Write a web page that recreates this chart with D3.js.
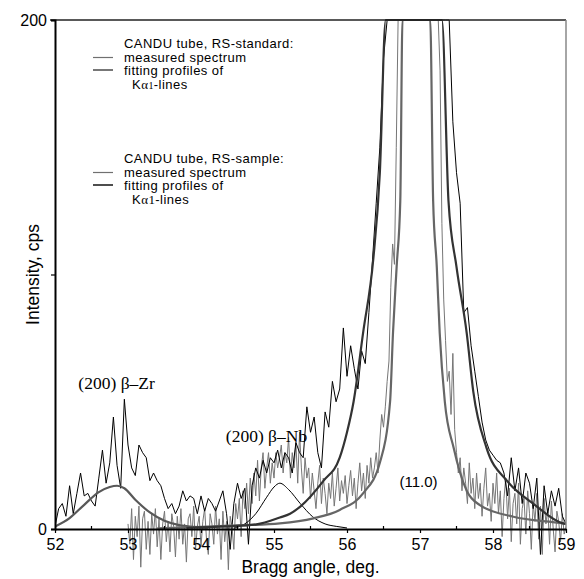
<!DOCTYPE html>
<html>
<head>
<meta charset="utf-8">
<script src="https://cdn.jsdelivr.net/npm/d3@7"></script>
<style>
  body { margin: 0; background: #fff; }
  svg { display: block; }
  text { font-family: "Liberation Sans", Arial, sans-serif; fill: #000; }
</style>
</head>
<body>
<svg id="chart" width="584" height="579"></svg>
<script>
// Bragg angle range and intensity range
const xDomain = [52, 59];
const yDomain = [0, 200];
const xTickValues = [52, 53, 54, 55, 56, 57, 58, 59];
const yTickLabels = [0, 200];
const yTickMarks = [0, 100, 200];

// RS-standard measured spectrum, 52.00 .. 59.00 deg, step 0.05
const stdStart = 52.0, stdStep = 0.05;
const stdMeasured = [
  1, 8, 10, 5, 17, 6, 14, 22, 13, 14,
  11, 9, 20, 31, 18, 26, 44, 25, 16, 51,
  33, 24, 21, 33, 30, 28, 19, 22, 19, 17,
  12, 8, 10, 6, 9, 15, 11, 13, 12, 6,
  13, 7, 12, 10, 7, 11, 15, 6, -8, 10,
  18, 12, 16, -6, 17, 24, 20, 27, 22, 28,
  26, 31, 24, 30, 28, 22, 34, 30, 28, 48,
  38, 44, 30, 24, 46, 40, 58, 50, 55, 79,
  60, 72, 63, 55, 70, 65, 85, 106, 128, 150,
  185, 220, 250, 250, 250, 250, 250, 250, 250, 250,
  250, 250, 250, 250, 250, 250, 250, 250, 250, 160,
  140, 128, 85, 87, 72, 62, 52, 42, 35, 31,
  29, 27, 26, 22, 13, 28, 15, 24, 10, 22,
  18, 8, 20, -10, 17, 6, 15, 9, 16, 5,
  2
];

// RS-sample measured spectrum, 53.000 .. 59.000 deg, step 0.025
const smpStart = 53.0, smpStep = 0.025;
const smpMeasured = [
  2, -6, 8, -12, 5, -3, 9, -15, 4, 7, -8, 3, -10, 6, -2, 8, -7, 4, -12, 2,
  7, -5, 3, -9, 6, 1, -11, 5, -4, 8, -6, 2, -13, 4, 6, -3, 9, -8, 1, 5,
  -7, 3, 8, -4, -10, 6, 2, -6, 9, -2, 4, -12, 7, -5, 3, -16, 5, 1, -8, 10,
  4, 12, -3, 15, 8, 18, 6, 20, 10, 22, 13, 27, 11, 24, 30, 16, 24, 30, 18, 26,
  20, 30, 24, 28, 33, 22, 30, 26, 36, 20, 30, 24, 34, 18, 38, 24, 14, 28, 20, 24,
  12, 22, 15, 8, 18, 25, 10, 20, 14, 6, 18, 12, 22, 9, 16, 24, 11, 19, 14, 21,
  10, 17, 23, 13, 20, 8, 18, 26, 15, 22, 12, 25, 18, 28, 20, 24, 30, 22, 35, 45,
  40, 48, 58, 66, 95, 112, 104, 150, 220, 260, 300, 300, 300, 300, 300, 300, 300, 300, 300, 300,
  300, 300, 300, 300, 300, 300, 300, 300, 300, 300, 260, 180, 120, 90, 74, 58, 62, 45, 69, 39,
  30, 22, 28, 15, 24, 18, 10, 26, 14, 20, 8, 22, 12, 18, 5, 16, 24, 9, 14, 3,
  18, 10, 22, 6, 15, -3, 12, 20, 4, 16, -5, 10, 14, 2, 18, -6, 8, 12, -2, 15,
  6, -8, 10, 3, 14, -4, 9, -10, 12, 2, 8, -6, 11, 0, -9, 7, 3, -5, 6, -2, 1
];

// Fitted profiles: (200) beta-Zr line of the standard
const zrFitX = [52.0, 52.2, 52.4, 52.6, 52.75, 52.85, 52.95, 53.1, 53.3, 53.5, 53.7, 53.9, 54.1];
const zrFitY = [1, 4.3, 9.5, 14.5, 16.5, 17, 16, 11.5, 6.5, 3.2, 1.5, 0.8, 0.5];

// Fitted profiles: (200) beta-Nb line
const nbFitX = [54.45, 54.6, 54.75, 54.9, 55.0, 55.08, 55.2, 55.36, 55.53, 55.7, 55.86, 56.0];
const nbFitY = [0.3, 2, 6, 12.5, 16.5, 18, 15.5, 10, 4.8, 2, 1, 0.4];

// Fitted (11.0) alpha line of the standard
const stdFitX = [53.8, 54.35, 54.76, 55.08, 55.22, 55.36, 55.68, 55.9, 56.0, 56.09, 56.22, 56.36, 56.45, 56.53, 56.7, 56.95, 57.15, 57.3, 57.39, 57.5, 57.64, 57.73, 57.91, 58.19, 58.55, 58.96, 59.0];
const stdFitY = [0.5, 1, 1.8, 4.5, 6, 8.8, 19, 28, 38, 50, 77, 106, 140, 200, 320, 420, 320, 200, 129, 103, 77, 54, 32, 19, 10, 2.2, 2];

// Fitted (11.0) alpha line of the sample
const smpFitX = [53.4, 54.0, 54.5, 55.08, 55.54, 55.9, 56.22, 56.45, 56.59, 56.63, 56.68, 56.73, 56.76, 56.9, 57.0, 57.14, 57.18, 57.23, 57.27, 57.34, 57.46, 57.64, 57.82, 58.28, 58.96, 59.0];
const smpFitY = [0.3, 0.8, 1.4, 2.2, 4.2, 7.5, 14, 26, 50, 77, 103, 129, 200, 400, 400, 200, 129, 103, 77, 50, 32, 15, 9.4, 4.8, 2.2, 2];

// Legend and peak captions
const legendBlocks = [
  { title: "CANDU tube, RS-standard:", measured: "#707070", fit: "#555555" },
  { title: "CANDU tube, RS-sample:", measured: "#707070", fit: "#222222" }
];
const peakLabels = [
  { text: "(200) \u03b2\u2013Zr", x: 52.32, y: 55, serif: true },
  { text: "(200) \u03b2\u2013Nb", x: 54.34, y: 34, serif: true },
  { text: "(11.0)", x: 56.72, y: 16.5, serif: false }
];

const svg = d3.select("#chart");
const margin = { left: 55, right: 18, top: 20, bottom: 50 };
const W = 584, H = 579;
const x = d3.scaleLinear().domain(xDomain).range([margin.left, W - margin.right]);
const y = d3.scaleLinear().domain(yDomain).range([H - margin.bottom, margin.top]);

// clip data horizontally to the frame; values above 200 are held at the top edge
svg.append("clipPath").attr("id", "plotClip")
  .append("rect")
  .attr("x", x(52)).attr("y", y(200) - 1)
  .attr("width", x(59) - x(52)).attr("height", H - y(200));

const plot = svg.append("g").attr("clip-path", "url(#plotClip)");
const yc = v => y(Math.min(v, 200));

const seriesLine = d3.line().x(d => x(d[0])).y(d => yc(d[1]));
const smoothLine = d3.line().x(d => x(d[0])).y(d => yc(d[1])).curve(d3.curveMonotoneX);

const stdPts = stdMeasured.map((v, i) => [stdStart + i * stdStep, v]);
const smpPts = smpMeasured.map((v, i) => [smpStart + i * smpStep, v]);
const zip = (xs, ys) => xs.map((v, i) => [v, ys[i]]);

// measured spectra
plot.append("path").datum(smpPts).attr("d", seriesLine)
  .attr("fill", "none").attr("stroke", "#767676").attr("stroke-width", 1);
plot.append("path").datum(stdPts).attr("d", seriesLine)
  .attr("fill", "none").attr("stroke", "#000").attr("stroke-width", 1);

// fitted profiles
plot.append("path").datum(zip(zrFitX, zrFitY)).attr("d", smoothLine)
  .attr("fill", "none").attr("stroke", "#585858").attr("stroke-width", 2.2);
plot.append("path").datum(zip(nbFitX, nbFitY)).attr("d", smoothLine)
  .attr("fill", "none").attr("stroke", "#000").attr("stroke-width", 1);
plot.append("path").datum(zip(smpFitX, smpFitY)).attr("d", smoothLine)
  .attr("fill", "none").attr("stroke", "#666").attr("stroke-width", 2.2);
plot.append("path").datum(zip(stdFitX, stdFitY)).attr("d", smoothLine)
  .attr("fill", "none").attr("stroke", "#333").attr("stroke-width", 2.2);

// frame: top and right edges
svg.append("line").attr("x1", x(52) - 5).attr("x2", x(59)).attr("y1", y(200)).attr("y2", y(200))
  .attr("stroke", "#222").attr("stroke-width", 1.5);
svg.append("line").attr("x1", x(59)).attr("x2", x(59)).attr("y1", y(200)).attr("y2", y(0))
  .attr("stroke", "#888").attr("stroke-width", 1.5);

// y axis
const yAxis = svg.append("g").attr("transform", `translate(${x(52)},0)`)
  .call(d3.axisLeft(y).tickValues(yTickMarks).tickSize(4)
    .tickFormat(d => yTickLabels.includes(d) ? d : ""));
yAxis.select(".domain").attr("stroke", "#000").attr("stroke-width", 2);
yAxis.selectAll(".tick line").attr("stroke", "#000").attr("stroke-width", 1.2);
yAxis.selectAll(".tick text").attr("font-size", 16).attr("x", -8)
  .style("font-family", "Liberation Sans, Arial, sans-serif");

// x axis
const xAxis = svg.append("g").attr("transform", `translate(0,${y(0)})`)
  .call(d3.axisBottom(x).tickValues(xTickValues).tickSize(4).tickSizeOuter(0).tickFormat(d3.format("d")));
xAxis.select(".domain").attr("stroke", "#000").attr("stroke-width", 2);
xAxis.selectAll(".tick line").attr("stroke", "#000").attr("stroke-width", 1.2);
xAxis.selectAll(".tick text").attr("font-size", 16).attr("y", 10)
  .style("font-family", "Liberation Sans, Arial, sans-serif");

// minor ticks pointing up
const minor = d3.range(52, 59.001, 0.5).filter(v => !Number.isInteger(v));
svg.append("g").selectAll("line").data(minor).join("line")
  .attr("x1", d => x(d)).attr("x2", d => x(d))
  .attr("y1", y(0)).attr("y2", y(0) - 3)
  .attr("stroke", "#000").attr("stroke-width", 1.2);

// axis titles
svg.append("text").attr("x", (x(52) + x(59)) / 2).attr("y", 573)
  .attr("text-anchor", "middle").attr("font-size", 17.5).text("Bragg angle, deg.");
svg.append("text").attr("transform", `translate(39,${(y(0) + y(200)) / 2}) rotate(-90)`)
  .attr("text-anchor", "middle").attr("font-size", 17.5).text("Intensity, cps");

// legend
const legendTop = [48, 163];
const lineGap = 13.5;
legendBlocks.forEach((b, k) => {
  const g = svg.append("g");
  const t0 = legendTop[k];
  const rows = [b.title, "measured spectrum", "fitting profiles of"];
  rows.forEach((r, i) => {
    g.append("text").attr("x", 124).attr("y", t0 + i * lineGap)
      .attr("font-size", 13).attr("letter-spacing", 0.45).text(r);
  });
  const kt = g.append("text").attr("x", 132).attr("y", t0 + 3 * lineGap)
    .attr("font-size", 13).attr("letter-spacing", 0.45);
  kt.append("tspan").text("K");
  kt.append("tspan").style("font-family", "Liberation Serif, serif").text("\u03b1");
  kt.append("tspan").attr("font-size", k === 0 ? 10 : 13)
    .style("font-family", "Liberation Serif, serif").text("1");
  kt.append("tspan").text("-lines");
  g.append("line").attr("x1", 93).attr("x2", 113)
    .attr("y1", t0 + lineGap - 4).attr("y2", t0 + lineGap - 4)
    .attr("stroke", b.measured).attr("stroke-width", 1.2);
  g.append("line").attr("x1", 93).attr("x2", 113)
    .attr("y1", t0 + 2 * lineGap - 5).attr("y2", t0 + 2 * lineGap - 5)
    .attr("stroke", b.fit).attr("stroke-width", 1.6);
});

// peak captions
peakLabels.forEach(p => {
  svg.append("text").attr("x", x(p.x)).attr("y", y(p.y))
    .attr("font-size", p.serif ? 17.5 : 15)
    .style("font-family", p.serif ? "Liberation Serif, 'Times New Roman', serif" : "Liberation Sans, Arial, sans-serif")
    .text(p.text);
});
</script>
</body>
</html>
